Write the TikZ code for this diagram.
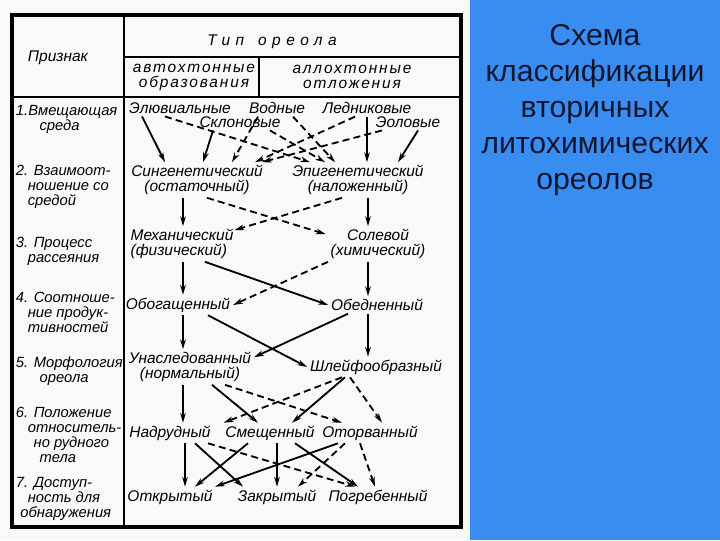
\documentclass[tikz,border=0pt]{standalone}
\usepackage{fontspec}
\setmainfont{Liberation Sans}
\usetikzlibrary{arrows.meta,calc}
\definecolor{panelblue}{RGB}{58,141,240}
\definecolor{paneltext}{RGB}{12,22,48}

\begin{document}
\begin{tikzpicture}[x=0.025cm,y=-0.025cm]
			\useasboundingbox (0,0) rectangle (720,540);
			\fill[gray!5] (0,0) rectangle (470,540);
			\fill[panelblue] (470,0) rectangle (720,540);
			% Define the styles
			\tikzstyle{scan} = [font=\itshape\fontsize{11}{10.7}\selectfont, inner sep=0.5pt];
			\tikzstyle{item} = [scan, font=\itshape\fontsize{10.5}{10.7}\selectfont, align=left, anchor=north west];
			\tikzstyle{solidarr} = [-{Stealth[length=7pt,width=4pt]}, line width=1.3pt];
			\tikzstyle{dasharr} = [solidarr, dash pattern=on 5pt off 3pt];
			
			% Table frame
			\draw[line width=2.2pt] (12,15) rectangle (461,527);
			\draw[line width=1.8pt] (124,15) -- (124,527);
			\draw[line width=1.8pt] (124,57) -- (461,57);
			\draw[line width=1.8pt] (12,97) -- (461,97);
			\draw[line width=1.8pt] (259,57) -- (259,97);
			
			% Header
			\node[scan] (priz) at (58,58) {Признак};
			\node[scan] (tip) at (272,42) {\addfontfeature{LetterSpace=35}Тип\hspace{10pt}ореола};
			\node[scan, align=center] (avt) at (194,77) {\addfontfeature{LetterSpace=12}автохтонные\\\addfontfeature{LetterSpace=12}образования};
			\node[scan, align=center] (allo) at (352,77) {\addfontfeature{LetterSpace=12}аллохтонные\\\addfontfeature{LetterSpace=12}отложения};
			
			% Left column
			\foreach \i/\y/\t in {1/104/{1.Вмещающая\\\hspace*{1.6em}среда},
				2/164/{2. Взаимоот-\\\hspace*{0.8em}ношение со\\\hspace*{0.8em}средой},
				3/236/{3. Процесс\\\hspace*{0.8em}рассеяния},
				4/291/{4. Соотноше-\\\hspace*{0.8em}ние продук-\\\hspace*{0.8em}тивностей},
				5/356/{5. Морфология\\\hspace*{1.6em}ореола},
				6/406/{6. Положение\\\hspace*{0.8em}относитель-\\\hspace*{1.2em}но рудного\\\hspace*{1.6em}тела},
				7/476/{7. Доступ-\\\hspace*{0.8em}ность для\\\hspace*{0.3em}обнаружения}}
			\node[item] (row\i) at (15,\y) {\t};
			
			% Row 1: environment
			\node[scan] (elu) at (180,108) {Элювиальные};
			\node[scan] (vod) at (277,108) {Водные};
			\node[scan] (led) at (367,108) {Ледниковые};
			\node[scan] (skl) at (240,122) {Склоновые};
			\node[scan] (eol) at (408,122) {Эоловые};
			% Row 2
			\node[scan, align=center] (sin) at (197,180) {Сингенетический\\(остаточный)};
			\node[scan, align=center] (epi) at (358,180) {Эпигенетический\\(наложенный)};
			% Row 3
			\node[scan, align=left] (mex) at (182,244) {Механический\\(физический)};
			\node[scan, align=center] (sol) at (378,244) {Солевой\\(химический)};
			% Row 4
			\node[scan] (obo) at (178,305) {Обогащенный};
			\node[scan] (obe) at (377,305) {Обедненный};
			% Row 5
			\node[scan, align=center] (una) at (190,367) {Унаследованный\\(нормальный)};
			\node[scan] (shl) at (376,367) {Шлейфообразный};
			% Row 6
			\node[scan] (nad) at (170,433) {Надрудный};
			\node[scan] (sme) at (270,433) {Смещенный};
			\node[scan] (oto) at (370,433) {Оторванный};
			% Row 7
			\node[scan] (otk) at (170,497) {Открытый};
			\node[scan] (zak) at (277,497) {Закрытый};
			\node[scan] (pog) at (378,497) {Погребенный};
			
			% Row 1 -> row 2
			\draw[solidarr] ($(elu.south)+(-38,2)$) -- ($(sin.north)+(-32,-2)$);
			\draw[dasharr] ($(elu.south)+(-15,2)$) -- ($(epi.north)+(-48,-2)$);
			\draw[solidarr] ($(skl.south)+(-27,2)$) -- ($(sin.north)+(6,-2)$);
			\draw[dasharr] ($(skl.south)+(30,2)$) -- ($(epi.north)+(-33,-2)$);
			\draw[dasharr] ($(vod.south)+(-19,2)$) -- ($(sin.north)+(35,-2)$);
			\draw[dasharr] ($(vod.south)+(16,2)$) -- ($(epi.north)+(-23,-2)$);
			\draw[dasharr] ($(led.south)+(-12,2)$) -- ($(sin.north)+(58,-2)$);
			\draw[solidarr] ($(led.south)+(0,2)$) -- ($(epi.north)+(9,-2)$);
			\draw[dasharr] ($(eol.south)+(-26,2)$) -- ($(sin.north)+(65,-2)$);
			\draw[solidarr] ($(eol.south)+(10,2)$) -- ($(epi.north)+(40,-2)$);
			
			% Row 2 -> row 3
			\draw[solidarr] ($(sin.south)+(-14,2)$) -- ($(mex.north)+(1,-2)$);
			\draw[dasharr] ($(sin.south)+(10,2)$) -- ($(sol.north west)+(-4,6)$);
			\draw[dasharr] ($(epi.south)+(-16,2)$) -- ($(mex.north east)+(0,2)$);
			\draw[solidarr] ($(epi.south)+(10,2)$) -- ($(sol.north)+(-10,-2)$);
			
			% Row 3 -> row 4
			\draw[solidarr] ($(mex.south)+(1,2)$) -- ($(obo.north)+(5,-2)$);
			\draw[solidarr] ($(mex.south)+(23,2)$) -- ($(obe.west)+(-2,0)$);
			\draw[dasharr] ($(sol.south)+(-50,2)$) -- ($(obo.east)+(2,0)$);
			\draw[solidarr] ($(sol.south)+(-10,2)$) -- ($(obe.north)+(-9,-2)$);
			
			% Row 4 -> row 5
			\draw[solidarr] ($(obo.south)+(5,2)$) -- ($(una.north)+(-7,-2)$);
			\draw[solidarr] ($(obo.south)+(30,2)$) -- ($(shl.west)+(-2,0)$);
			\draw[solidarr] ($(obe.south)+(-29,2)$) -- ($(una.north east)+(2,6)$);
			\draw[solidarr] ($(obe.south)+(-9,2)$) -- ($(shl.north)+(-8,-2)$);
			
			% Row 5 -> row 6
			\draw[solidarr] ($(una.south)+(-7,2)$) -- ($(nad.north)+(13,-2)$);
			\draw[solidarr] ($(una.south)+(22,2)$) -- ($(sme.north)+(-12,-2)$);
			\draw[dasharr] ($(una.south)+(35,2)$) -- ($(oto.north)+(-28,-2)$);
			\draw[dasharr] ($(shl.south)+(-34,2)$) -- ($(nad.north east)+(12,-2)$);
			\draw[solidarr] ($(shl.south)+(-31,2)$) -- ($(sme.north)+(22,-2)$);
			\draw[dasharr] ($(shl.south)+(-26,2)$) -- ($(oto.north)+(12,-2)$);
			
			% Row 6 -> row 7
			\draw[solidarr] ($(nad.south)+(15,2)$) -- ($(otk.north)+(15,-2)$);
			\draw[solidarr] ($(nad.south)+(25,2)$) -- ($(zak.north)+(-34,-2)$);
			\draw[dasharr] ($(nad.south)+(38,2)$) -- ($(pog.north)+(-23,-2)$);
			\draw[solidarr] ($(sme.south)+(-22,2)$) -- ($(otk.north)+(25,-2)$);
			\draw[solidarr] ($(sme.south)+(7,2)$) -- ($(zak.north)+(0,-2)$);
			\draw[solidarr] ($(sme.south)+(25,2)$) -- ($(pog.north)+(-20,-2)$);
			\draw[solidarr] ($(oto.south)+(-32,2)$) -- ($(otk.north)+(45,-2)$);
			\draw[dasharr] ($(oto.south)+(-25,2)$) -- ($(zak.north)+(21,-2)$);
			\draw[dasharr] ($(oto.south)+(-10,2)$) -- ($(pog.north)+(-3,-2)$);
			
			% Title panel
			\node[font=\fontsize{21.5}{25.6}\selectfont, text=paneltext, align=center] (title) at (595,110)
				{Схема\\классификации\\вторичных\\литохимических\\ореолов};
		\end{tikzpicture}
\end{document}
